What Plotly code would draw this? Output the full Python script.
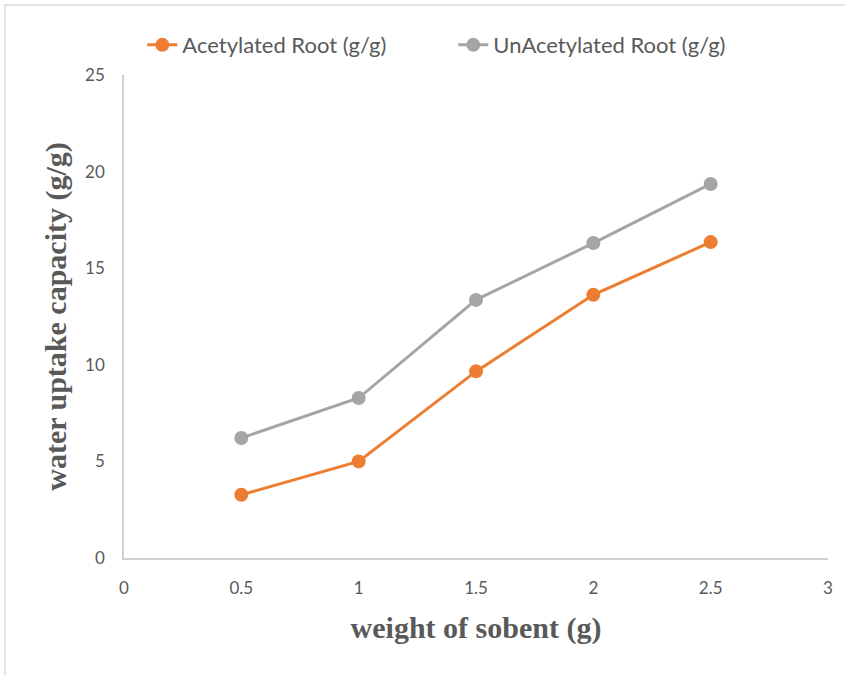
import plotly.graph_objects as go

# Sorbent weight (g) and measured water uptake (g/g)
weight = [0.5, 1.0, 1.5, 2.0, 2.5]
acetylated = [3.27, 5.00, 9.66, 13.62, 16.35]
unacetylated = [6.21, 8.28, 13.36, 16.30, 19.36]

x_ticks = [0, 0.5, 1, 1.5, 2, 2.5, 3]
x_tick_text = ["0", "0.5", "1", "1.5", "2", "2.5", "3"]
y_ticks = [0, 5, 10, 15, 20, 25]

TICK_FONT = dict(family="Lato, Open Sans, sans-serif", size=17, color="#595959")
TITLE_FONT = dict(family="Liberation Serif, Times New Roman, serif", size=30, color="#595959")

fig = go.Figure()
fig.add_trace(go.Scatter(
    x=weight, y=acetylated, mode="lines+markers",
    name="Acetylated Root (g/g)",
    line=dict(color="#ED7D31", width=3),
    marker=dict(color="#ED7D31", size=14),
))
fig.add_trace(go.Scatter(
    x=weight, y=unacetylated, mode="lines+markers",
    name="UnAcetylated Root (g/g)",
    line=dict(color="#A5A5A5", width=3),
    marker=dict(color="#A5A5A5", size=14),
))

fig.update_layout(
    width=845, height=675,
    margin=dict(l=124, r=17, t=75, b=117),
    paper_bgcolor="white", plot_bgcolor="white",
    showlegend=True,
    legend=dict(
        orientation="h", x=0.026, xanchor="left", y=1.062, yanchor="middle",
        font=dict(family="Lato, Open Sans, sans-serif", size=22, color="#595959"),
        entrywidth=266, traceorder="normal",
    ),
    xaxis=dict(
        range=[0, 3], tickvals=x_ticks, ticktext=x_tick_text,
        showgrid=False, zeroline=False,
        showline=True, linecolor="#D0D0D0", linewidth=1.5,
        ticks="outside", ticklen=14, tickcolor="rgba(0,0,0,0)",
        tickfont=TICK_FONT,
        title=dict(text="<b>weight of sobent (g)</b>", font=TITLE_FONT, standoff=20),
    ),
    yaxis=dict(
        range=[0, 25], tickvals=y_ticks,
        showgrid=False, zeroline=False,
        showline=True, linecolor="#D0D0D0", linewidth=1.5,
        ticks="outside", ticklen=14, tickcolor="rgba(0,0,0,0)",
        tickfont=TICK_FONT,
        title=dict(text="<b>water uptake capacity (g/g)</b>", font=TITLE_FONT, standoff=10),
    ),
)

# Light frame around the chart area
fig.add_shape(
    type="rect", xref="paper", yref="paper",
    x0=-119 / 704, x1=1.05, y0=-0.25, y1=1 + 70 / 483,
    line=dict(color="#D9D9D9", width=1.5), fillcolor="rgba(0,0,0,0)",
    layer="below",
)

fig.write_html("out.html")
